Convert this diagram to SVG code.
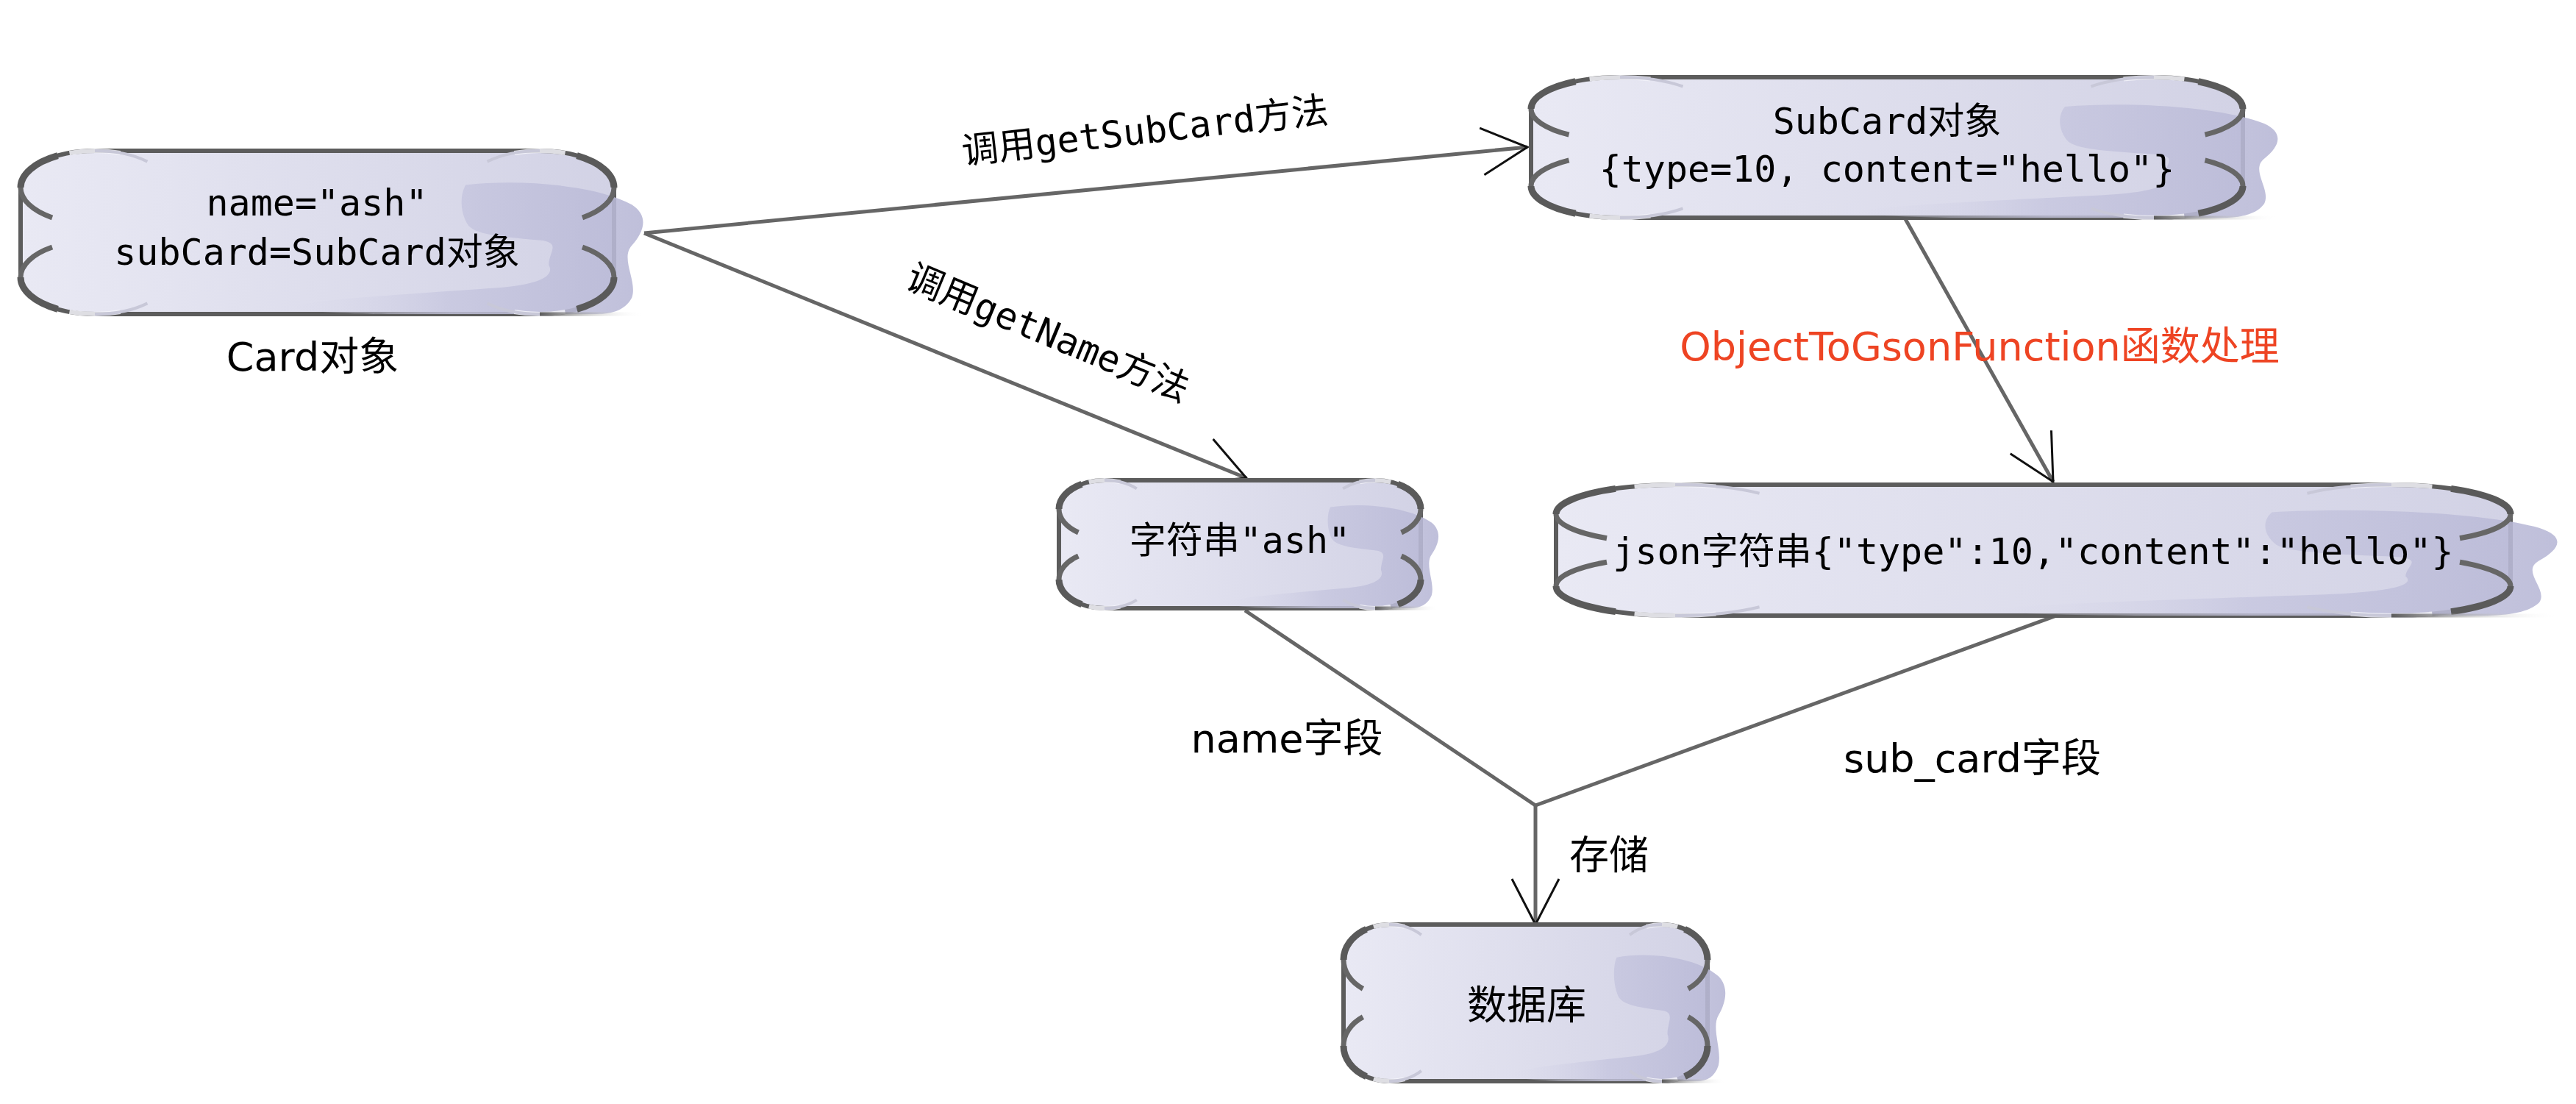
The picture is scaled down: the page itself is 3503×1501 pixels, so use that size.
<svg xmlns="http://www.w3.org/2000/svg" xmlns:xlink="http://www.w3.org/1999/xlink" width="3503" height="1501" viewBox="0 0 3503 1501">
<style>
.box{fill:url(#boxFill);stroke:#5c5c5c;stroke-width:6}
.blob{fill:url(#blobFill)}
.co{fill:none;stroke:#5a5a5a;stroke-width:9;vector-effect:non-scaling-stroke}
.cs{fill:none;stroke:#666;stroke-width:7;vector-effect:non-scaling-stroke}
.ct{fill:none;stroke:#c8c8d8;stroke-width:4;vector-effect:non-scaling-stroke}
.hl{fill:none;stroke:#f4f4fa;stroke-width:6;stroke-opacity:0.85;vector-effect:non-scaling-stroke}
.shade{fill:url(#shade)}
.mono{font-family:"DejaVu Sans Mono","Noto Sans CJK SC",monospace;font-size:50px;fill:#000;text-anchor:middle}
.lbl{font-family:"DejaVu Sans","Noto Sans CJK SC",sans-serif;font-size:54px;fill:#000;text-anchor:middle}
.red{fill:#ee4423}
.conn{fill:none;stroke:#666;stroke-width:5}
</style>
<defs>
<linearGradient id="boxFill" x1="0" y1="0" x2="1" y2="0"><stop offset="0" stop-color="#e9e9f4"/><stop offset="1" stop-color="#d2d2e5"/></linearGradient>
<linearGradient id="blobFill" x1="0" y1="0" x2="1" y2="0"><stop offset="0" stop-color="#dcdcec" stop-opacity="0.1"/><stop offset="0.45" stop-color="#c6c6df" stop-opacity="0.8"/><stop offset="1" stop-color="#b8b8d6" stop-opacity="0.9"/></linearGradient>
<linearGradient id="shade" x1="0" y1="0" x2="1" y2="0"><stop offset="0" stop-color="#5c5c5c"/><stop offset="1" stop-color="#ffffff" stop-opacity="0"/></linearGradient>
<path id="blob" d="M 0.75 0.21 C 0.84 0.17 0.97 0.21 1.03 0.33 C 1.06 0.40 1.05 0.50 1.03 0.58 C 1.01 0.66 1.04 0.80 1.03 0.90 C 1.02 0.97 1.0 1.0 0.97 1.0 L 0.62 1.0 C 0.55 1.0 0.47 0.985 0.46 0.96 C 0.47 0.92 0.60 0.89 0.80 0.84 C 0.88 0.82 0.90 0.76 0.89 0.70 C 0.89 0.62 0.91 0.57 0.88 0.55 C 0.82 0.53 0.77 0.52 0.755 0.46 C 0.74 0.38 0.74 0.27 0.75 0.21 Z"/>
<g id="curl">
<path class="co" d="M -1 0 A 1 1 0 0 1 -0.5 -0.866"/>
<path class="hl" d="M -0.342 -0.94 A 1 1 0 0 1 0.342 -0.94"/>
<path class="cs" d="M -1 0 A 1 1 0 0 0 -0.574 0.819"/>
<path class="ct" d="M 0 -1 A 1 1 0 0 1 0.707 -0.707"/>
</g>
<marker id="arrow" markerUnits="userSpaceOnUse" markerWidth="90" markerHeight="90" viewBox="-80 -45 90 90" refX="0" refY="0" orient="auto"><path d="M -62 -32 L 0 0 L -62 32" fill="none" stroke="#111" stroke-width="3"/></marker>
</defs>
<rect width="3503" height="1501" fill="#fff"/>

<g id="connectors">
<path class="conn" d="M 876 317 L 2077 200" marker-end="url(#arrow)"/>
<path class="conn" d="M 876 317 L 1695 650" marker-end="url(#arrow)"/>
<path class="conn" d="M 2590 296 L 2792 655" marker-end="url(#arrow)"/>
<path class="conn" d="M 1693 830 L 2088 1095 L 2796 837"/>
<path class="conn" d="M 2088 1095 L 2088 1257" marker-end="url(#arrow)"/>
<text class="mono" transform="translate(1557 178) rotate(-6.5)" x="0" y="17">调用getSubCard方法</text>
<text class="mono" transform="translate(1425 453) rotate(22.5)" x="0" y="17">调用getName方法</text>
<text class="lbl red" x="2692" y="490">ObjectToGsonFunction函数处理</text>
<text class="lbl" x="1750" y="1023">name字段</text>
<text class="lbl" x="2682" y="1050">sub_card字段</text>
<text class="lbl" x="2188" y="1182">存储</text>
</g>

<g id="node-card">
<rect class="box" x="28" y="205" width="807" height="222" rx="101" ry="50"/>
<use href="#blob" class="blob" transform="translate(28 205) scale(807 222)"/>
<use href="#curl" transform="translate(129 255) scale(101 50)"/>
<use href="#curl" transform="translate(734 255) scale(-101 50)"/>
<use href="#curl" transform="translate(129 377) scale(101 -50)"/>
<use href="#curl" transform="translate(734 377) scale(-101 -50)"/>
<rect class="shade" x="734" y="424.5" width="141" height="5"/>
<text class="mono" x="431" y="293">name="ash"</text>
<text class="mono" x="431" y="360">subCard=SubCard对象</text>
<text class="lbl" x="425" y="504">Card对象</text>
</g>

<g id="node-subcard">
<rect class="box" x="2082" y="105" width="968" height="191" rx="121" ry="43"/>
<use href="#blob" class="blob" transform="translate(2082 105) scale(968 191)"/>
<use href="#curl" transform="translate(2203 148) scale(121 43)"/>
<use href="#curl" transform="translate(2929 148) scale(-121 43)"/>
<use href="#curl" transform="translate(2203 253) scale(121 -43)"/>
<use href="#curl" transform="translate(2929 253) scale(-121 -43)"/>
<rect class="shade" x="2929" y="293.5" width="169" height="5"/>
<text class="mono" x="2566" y="182">SubCard对象</text>
<text class="mono" x="2566" y="247">{type=10, content="hello"}</text>
</g>

<g id="node-ash">
<rect class="box" x="1440" y="653" width="492" height="174" rx="62" ry="39"/>
<use href="#blob" class="blob" transform="translate(1440 653) scale(492 174)"/>
<use href="#curl" transform="translate(1502 692) scale(62 39)"/>
<use href="#curl" transform="translate(1870 692) scale(-62 39)"/>
<use href="#curl" transform="translate(1502 788) scale(62 -39)"/>
<use href="#curl" transform="translate(1870 788) scale(-62 -39)"/>
<rect class="shade" x="1870" y="824.5" width="86" height="5"/>
<text class="mono" x="1686" y="752">字符串"ash"</text>
</g>

<g id="node-json">
<rect class="box" x="2116" y="659" width="1298" height="178" rx="162" ry="40"/>
<use href="#blob" class="blob" transform="translate(2116 659) scale(1298 178)"/>
<use href="#curl" transform="translate(2278 699) scale(162 40)"/>
<use href="#curl" transform="translate(3252 699) scale(-162 40)"/>
<use href="#curl" transform="translate(2278 797) scale(162 -40)"/>
<use href="#curl" transform="translate(3252 797) scale(-162 -40)"/>
<rect class="shade" x="3252" y="834.5" width="227" height="5"/>
<text class="mono" x="2765" y="767">json字符串{"type":10,"content":"hello"}</text>
</g>

<g id="node-db">
<rect class="box" x="1827" y="1257" width="495" height="213" rx="62" ry="48"/>
<use href="#blob" class="blob" transform="translate(1827 1257) scale(495 213)"/>
<use href="#curl" transform="translate(1889 1305) scale(62 48)"/>
<use href="#curl" transform="translate(2260 1305) scale(-62 48)"/>
<use href="#curl" transform="translate(1889 1422) scale(62 -48)"/>
<use href="#curl" transform="translate(2260 1422) scale(-62 -48)"/>
<rect class="shade" x="2260" y="1467.5" width="87" height="5"/>
<text class="lbl" x="2076" y="1386">数据库</text>
</g>
</svg>
